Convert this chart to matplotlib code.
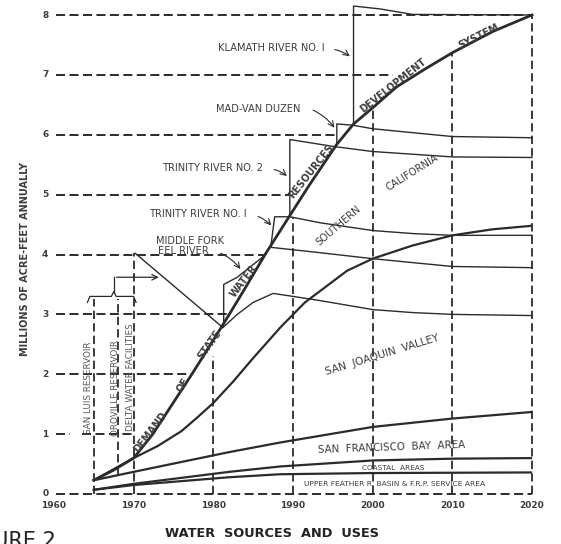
import matplotlib.pyplot as plt

plt.rcParams['font.family'] = 'DejaVu Sans'
plt.rcParams['lines.scale_dashes'] = False

INK = '#2b2b2b'
TXT = '#3c3c3c'
DASH = (0, (6.5, 3.2))

# demand of state water resources development system
demand_years = [1965, 1967.5, 1970, 1972.4, 1977.3, 1980, 1982, 1984, 1986.5, 1989.6,
                1992, 1995.5, 1997.6, 2000, 2003, 2006.6, 2010, 2015, 2020]
demand_vals = [0.23, 0.4, 0.6, 1.0, 2.0, 2.57, 3.0, 3.44, 4.0, 4.65,
               5.15, 5.84, 6.18, 6.45, 6.8, 7.1, 7.37, 7.72, 8.0]

# regional use lines (cumulative)
feather_years = [1965, 1970, 1982, 1988.4, 2000, 2020]
feather_vals = [0.07, 0.15, 0.28, 0.33, 0.35, 0.36]
coastal_years = [1965, 1970, 1982, 1988.4, 2000, 2010, 2020]
coastal_vals = [0.07, 0.17, 0.37, 0.46, 0.56, 0.59, 0.6]
sfbay_years = [1965, 1970, 1982, 1988.4, 2000, 2010, 2020]
sfbay_vals = [0.23, 0.37, 0.7, 0.86, 1.12, 1.26, 1.37]
sjv_years = [1965, 1970, 1973, 1976, 1978, 1980, 1982.5, 1985, 1988.4, 1991.5, 1996.8,
             2000, 2005, 2010, 2015, 2020]
sjv_vals = [0.23, 0.6, 0.8, 1.05, 1.28, 1.52, 1.88, 2.27, 2.78, 3.2, 3.73,
            3.93, 4.15, 4.32, 4.42, 4.48]

# supply from each source, stepped
delta_years = [1970.2, 1981.2]
delta_vals = [4.02, 2.78]
eel_years = [1981.2, 1983, 1985, 1987.5, 1990, 1993.4, 2000, 2005, 2010, 2020]
eel_vals = [2.78, 3.0, 3.2, 3.35, 3.3, 3.23, 3.08, 3.03, 3.0, 2.98]
eel_step_years = [1981.3, 1981.3, 1983.0, 1986.4]
eel_step_vals = [2.8, 3.5, 3.62, 3.98]
trin1_years = [1987.2, 1987.7, 1989.6, 1993.4, 2000, 2005, 2010, 2020]
trin1_vals = [4.12, 4.63, 4.63, 4.53, 4.4, 4.35, 4.32, 4.32]
trin1b_years = [1987.2, 1993.4, 2000, 2010, 2020]
trin1b_vals = [4.12, 4.03, 3.93, 3.8, 3.78]
trin2_years = [1989.6, 1989.6, 1995.3, 2000, 2010, 2020]
trin2_vals = [4.65, 5.92, 5.8, 5.72, 5.63, 5.62]
madvan_years = [1995.5, 1995.5, 1997.5, 2000, 2010, 2020]
madvan_vals = [5.84, 6.18, 6.16, 6.1, 5.97, 5.95]
klamath_years = [1997.6, 1997.6, 2001, 2005, 2020]
klamath_vals = [6.18, 8.15, 8.1, 8.01, 8.0]

y_ticks = [0, 1, 2, 3, 4, 5, 6, 7, 8]
x_ticks = [1960, 1970, 1980, 1990, 2000, 2010, 2020]

fig = plt.figure(figsize=(5.61, 5.44), dpi=100)
ax = fig.add_axes([54 / 561, 50 / 544, 478 / 561, 479 / 544])
ax.set_xlim(1960, 2020)
ax.set_ylim(0, 8)
ax.set_axis_off()

# dashed grid, stopping at the demand curve
h_end = [2020, 1962, 1977.3, 1982, 1986.5, 1989.6, 1995.5, 2002.5, 2020]
for y, x1 in zip(y_ticks, h_end):
    ax.plot([1960.3, x1], [y, y], color=INK, lw=1.4, ls=DASH, clip_on=False)
ax.plot([1963.5, 1970], [1, 1], color=INK, lw=1.4, ls=DASH)
v_bot = [0, 0.32, 0, 0, 0, 0, 0, 0]
v_top = [3.25, 3.25, 4.02, 2.3, 4.63, 6.45, 7.37, 8.0]
for x, y0, y1 in zip([1965, 1968, 1970, 1980, 1990, 2000, 2010, 2020], v_bot, v_top):
    ax.plot([x, x], [y0, y1], color=INK, lw=1.3, ls=(0, (6, 3)), clip_on=False)

# brace over the first facilities
ax.plot([1964.2, 1964.5, 1967.2, 1967.5, 1967.8, 1970.0, 1970.3],
        [3.2, 3.3, 3.3, 3.38, 3.3, 3.3, 3.2], color=INK, lw=0.9)
ax.plot([1967.5, 1967.5], [3.38, 3.62], color=INK, lw=0.9)
ax.annotate('', xy=(1973.5, 3.62), xytext=(1967.5, 3.62),
            arrowprops=dict(arrowstyle='->', color=INK, lw=0.9))

# use lines
ax.plot(feather_years, feather_vals, color=INK, lw=1.6)
ax.plot(coastal_years, coastal_vals, color=INK, lw=1.6)
ax.plot(sfbay_years, sfbay_vals, color=INK, lw=1.6)
ax.plot(sjv_years, sjv_vals, color=INK, lw=1.6)

# supply lines
for xs, ys in [(delta_years, delta_vals), (eel_years, eel_vals), (eel_step_years, eel_step_vals),
               (trin1_years, trin1_vals), (trin1b_years, trin1b_vals), (trin2_years, trin2_vals),
               (madvan_years, madvan_vals), (klamath_years, klamath_vals)]:
    ax.plot(xs, ys, color=INK, lw=1.0, clip_on=False)

ax.plot(demand_years, demand_vals, color=INK, lw=2.0, clip_on=False)

# ticks
for y in y_ticks:
    ax.text(1958.9, y, str(y), ha='center', va='center', fontsize=6.5, fontweight='bold', color=TXT)
for x in x_ticks:
    ax.text(x, -0.2, str(x), ha='center', va='center', fontsize=6.5, fontweight='bold', color=TXT)

ax.text(1956.4, 3.93, 'MILLIONS OF ACRE-FEET ANNUALLY', rotation=90, ha='center', va='center',
        fontsize=7, fontweight='bold', color=TXT)
ax.text(1987.4, -0.66, 'WATER  SOURCES  AND  USES', ha='center', va='center',
        fontsize=9.3, fontweight='bold', color='#222222')
fig.text(56 / 561, 1 - 531 / 544, 'FIGURE 2', ha='right', va='top', fontsize=15, color='#222222')

# demand curve caption
for s, x, y, r in [('DEMAND', 1972.15, 1.04, 52.5), ('OF', 1976.15, 1.82, 57),
                   ('STATE', 1979.48, 2.49, 54.5), ('WATER', 1983.87, 3.55, 52.6),
                   ('RESOURCES', 1992.24, 5.39, 51.6), ('DEVELOPMENT', 2002.6, 6.82, 38.3),
                   ('SYSTEM', 2013.26, 7.65, 26.6)]:
    ax.text(x, y, s, rotation=r, ha='center', va='center', fontsize=7, fontweight='bold', color=TXT)

# area captions
ax.text(1995.69, 4.48, 'SOUTHERN', rotation=40.6, ha='center', va='center', fontsize=7.2, color=TXT)
ax.text(2005.0, 5.36, 'CALIFORNIA', rotation=31.9, ha='center', va='center', fontsize=7.2, color=TXT)
ax.text(2001.13, 2.32, 'SAN  JOAQUIN  VALLEY', rotation=17, ha='center', va='center', fontsize=7.6, color=TXT)
ax.text(2002.4, 0.78, 'SAN  FRANCISCO  BAY  AREA', rotation=2, ha='center', va='center', fontsize=7.4, color=TXT)
ax.text(2002.6, 0.43, 'COASTAL  AREAS', ha='center', va='center', fontsize=5.3, color=TXT)
ax.text(2002.8, 0.17, 'UPPER FEATHER R. BASIN & F.R.P. SERVICE AREA', ha='center', va='center',
        fontsize=5.4, color=TXT)

# facility captions
ax.text(1964.27, 1.77, 'SAN LUIS RESERVOIR', rotation=90, ha='center', va='center', fontsize=6.3, color='#555555')
ax.text(1967.72, 1.77, 'OROVILLE RESERVOIR', rotation=90, ha='center', va='center', fontsize=6.3, color='#555555')
ax.text(1969.6, 1.95, 'DELTA WATER FACILITIES', rotation=90, ha='center', va='center', fontsize=6.3, color='#555555')

labels = [('KLAMATH RIVER NO. I', 1987.3, 7.45, (1994.9, 7.43), (1997.4, 7.28)),
          ('MAD-VAN DUZEN', 1985.67, 6.43, (1992.2, 6.43), (1995.4, 6.08)),
          ('TRINITY RIVER NO. 2', 1979.96, 5.44, (1987.3, 5.43), (1989.5, 5.28)),
          ('TRINITY RIVER NO. I', 1978.0, 4.68, (1985.3, 4.65), (1987.5, 4.45)),
          ('EEL RIVER', 1976.3, 4.065, (1980.6, 4.04), (1983.6, 3.72))]
for s, x, y, p0, p1 in labels:
    ax.text(x, y, s, ha='center', va='center', fontsize=7.1, color=TXT)
    ax.annotate('', xy=p1, xytext=p0,
                arrowprops=dict(arrowstyle='->', color=INK, lw=0.8, connectionstyle='arc3,rad=-0.15'))
ax.text(1977.13, 4.22, 'MIDDLE FORK', ha='center', va='center', fontsize=7.1, color=TXT)

fig.savefig('out.png', dpi=100, facecolor='white')
